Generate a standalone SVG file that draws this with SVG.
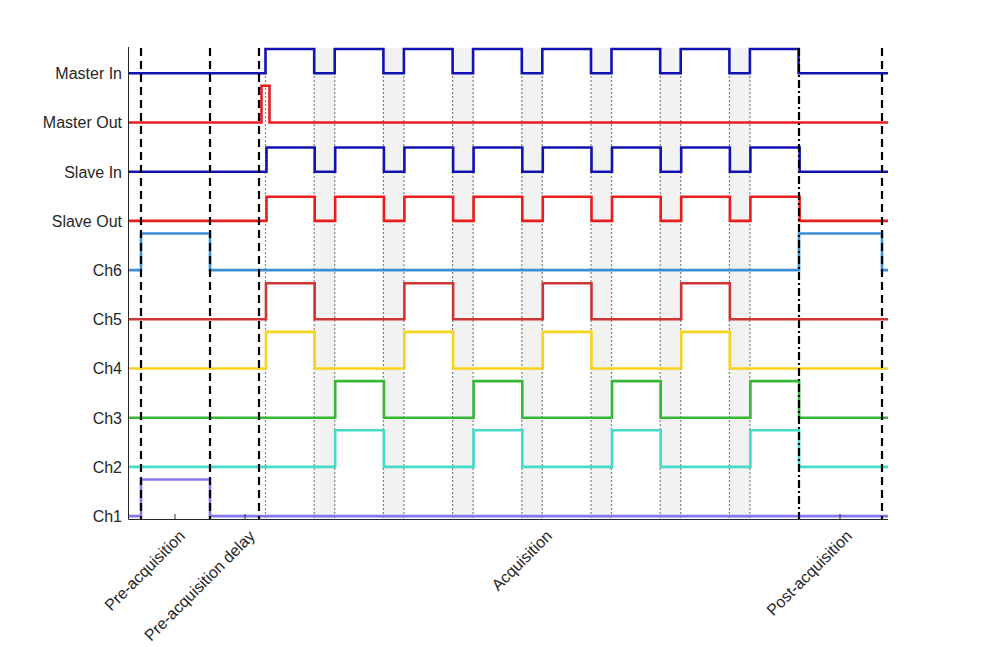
<svg xmlns="http://www.w3.org/2000/svg" width="982" height="647" viewBox="0 0 982 647">
<style>
.lbl{font-family:"Liberation Sans",Arial,sans-serif;font-size:16px;fill:#262626;text-anchor:end}
.sig{fill:none;stroke-width:2.6;stroke-linejoin:miter}
.dot{stroke:#7f7f7f;stroke-width:1.2;stroke-dasharray:2,2;fill:none}
.dash{stroke:#000;stroke-width:2.2;stroke-dasharray:8,5;fill:none}
.dashdot{stroke:#000;stroke-width:2.2;stroke-dasharray:8,3,2,3;fill:none}
.shade{fill:#f2f2f2}
.axis{stroke:#262626;stroke-width:1;fill:none}
</style>
<rect width="982" height="647" fill="#fff"/>
<g id="shading">
<rect class="shade" x="314.2" y="48" width="20.5" height="471.5"/>
<rect class="shade" x="383.4" y="48" width="20.5" height="471.5"/>
<rect class="shade" x="452.6" y="48" width="20.5" height="471.5"/>
<rect class="shade" x="521.8" y="48" width="20.5" height="471.5"/>
<rect class="shade" x="591" y="48" width="20.5" height="471.5"/>
<rect class="shade" x="660.2" y="48" width="20.5" height="471.5"/>
<rect class="shade" x="729.4" y="48" width="20.5" height="471.5"/>
</g>
<g id="connectors">
<path class="dot" d="M265.5,48V519.5M314.2,48V519.5M334.7,48V519.5M383.4,48V519.5M403.9,48V519.5M452.6,48V519.5M473.1,48V519.5M521.8,48V519.5M542.3,48V519.5M591,48V519.5M611.5,48V519.5M660.2,48V519.5M680.7,48V519.5M729.4,48V519.5M749.9,48V519.5"/>
</g>
<g id="signals">
<path id="master-in" class="sig" stroke="#1212b4" d="M128,73.3H265.5V49H314.2V73.3H334.7V49H383.4V73.3H403.9V49H452.6V73.3H473.1V49H521.8V73.3H542.3V49H591V73.3H611.5V49H660.2V73.3H680.7V49H729.4V73.3H749.9V49H798.6V73.3H888"/>
<path id="master-out" class="sig" stroke="#ec1c1c" d="M128,122.5H261.5V85.7H269.5V122.5H888"/>
<path id="slave-in" class="sig" stroke="#1212b4" d="M128,171.7H266.5V147.5H314.7V171.7H335.2V147.5H383.9V171.7H404.4V147.5H453.1V171.7H473.6V147.5H522.3V171.7H542.8V147.5H591.5V171.7H612V147.5H660.7V171.7H681.2V147.5H729.9V171.7H750.4V147.5H799.6V171.7H888"/>
<path id="slave-out" class="sig" stroke="#ec1c1c" d="M128,220.9H266.5V196.7H314.7V220.9H335.2V196.7H383.9V220.9H404.4V196.7H453.1V220.9H473.6V196.7H522.3V220.9H542.8V196.7H591.5V220.9H612V196.7H660.7V220.9H681.2V196.7H729.9V220.9H750.4V196.7H799.6V220.9H888"/>
<path id="ch6" class="sig" stroke="#3a8fd6" d="M128,270.1H141V233.5H210V270.1H799V233.5H882V270.1H888"/>
<path id="ch5" class="sig" stroke="#d03535" d="M128,319.3H266V283.3H314.7V319.3H404.4V283.3H453.1V319.3H542.8V283.3H591.5V319.3H681.2V283.3H729.9V319.3H888"/>
<path id="ch4" class="sig" stroke="#f8d31e" d="M128,368.5H266V331.9H314.7V368.5H404.4V331.9H453.1V368.5H542.8V331.9H591.5V368.5H681.2V331.9H729.9V368.5H888"/>
<path id="ch3" class="sig" stroke="#36b836" d="M128,417.7H335.2V381.1H383.9V417.7H473.6V381.1H522.3V417.7H612V381.1H660.7V417.7H750.4V381.1H799.1V417.7H888"/>
<path id="ch2" class="sig" stroke="#44dcc8" d="M128,466.9H335.2V430.3H383.9V466.9H473.6V430.3H522.3V466.9H612V430.3H660.7V466.9H750.4V430.3H799.1V466.9H888"/>
<path id="ch1" class="sig" stroke="#8378ee" d="M128,516.1H141V479.5H210V516.1H888"/>
</g>
<g id="markers">
<path class="dash" d="M141,48V519.5M210,48V519.5M259,48V519.5M882,48V519.5"/>
<path class="dashdot" d="M799,48V519.5"/>
</g>
<g id="axes">
<path class="axis" d="M128.5,47V519.5H888"/>
<path class="axis" d="M175,519.5V514M245,519.5V514M840,519.5V514"/>
</g>
<g id="row-labels">
<text class="lbl" x="122" y="79">Master In</text>
<text class="lbl" x="122" y="128">Master Out</text>
<text class="lbl" x="122" y="177.5">Slave In</text>
<text class="lbl" x="122" y="226.5">Slave Out</text>
<text class="lbl" x="122" y="276">Ch6</text>
<text class="lbl" x="122" y="325">Ch5</text>
<text class="lbl" x="122" y="374">Ch4</text>
<text class="lbl" x="122" y="423.5">Ch3</text>
<text class="lbl" x="122" y="472.5">Ch2</text>
<text class="lbl" x="122" y="522">Ch1</text>
</g>
<g id="phase-labels">
<text class="lbl" transform="translate(186,537) rotate(-45)">Pre-acquisition</text>
<text class="lbl" transform="translate(256,537) rotate(-45)">Pre-acquisition delay</text>
<text class="lbl" transform="translate(553,537) rotate(-45)">Acquisition</text>
<text class="lbl" transform="translate(853,537) rotate(-45)">Post-acquisition</text>
</g>
</svg>
